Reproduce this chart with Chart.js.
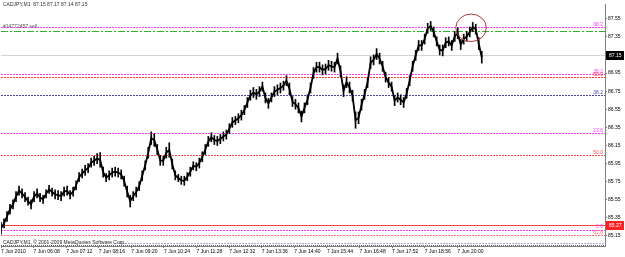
<!DOCTYPE html>
<html>
<head>
<meta charset="utf-8">
<script src="https://cdn.jsdelivr.net/npm/chart.js@4.4.0/dist/chart.umd.min.js"></script>
<style>
  html, body { margin: 0; padding: 0; background: #fff; }
</style>
</head>
<body>
<canvas id="myChart" width="625" height="257"></canvas>
<script>
// 차트 상단 텍스트
const titleText = "CADJPY,M1  87.15 87.17 87.14 87.15";
const orderText = "#14772457 sell";
const copyrightText = "CADJPY,M1, \u00a9 2001-2009 MetaQuotes Software Corp.";

// 시간축 라벨 (64분 간격)
const timeLabels = [
  "7 Jun 2010", "7 Jun 06:08", "7 Jun 07:12", "7 Jun 08:16", "7 Jun 09:20",
  "7 Jun 10:24", "7 Jun 11:28", "7 Jun 12:32", "7 Jun 13:36", "7 Jun 14:40",
  "7 Jun 15:44", "7 Jun 16:48", "7 Jun 17:52", "7 Jun 18:56", "7 Jun 20:00",
];
const labelStepMin = 64;
const sampleStepMin = 5.9;

// 가격축 눈금
const priceTicks = [85.15, 85.35, 85.55, 85.75, 85.95, 86.15, 86.35, 86.55, 86.75, 86.95, 87.15, 87.35, 87.55];

// 고가 / 저가 (화면에서 읽은 값)
const barHighs = [
  85.30, 85.34, 85.42, 85.50, 85.55, 85.64, 85.70, 85.67, 85.63, 85.58,
  85.55, 85.64, 85.67, 85.62, 85.60, 85.66, 85.71, 85.68, 85.66, 85.65,
  85.64, 85.69, 85.70, 85.65, 85.69, 85.76, 85.85, 85.89, 85.93, 85.95,
  86.01, 86.03, 86.06, 86.07, 85.91, 85.84, 85.87, 85.90, 85.91, 85.90,
  85.88, 85.81, 85.70, 85.60, 85.64, 85.69, 85.75, 85.87, 85.98, 86.13,
  86.30, 86.28, 86.16, 86.04, 86.03, 86.13, 86.18, 86.00, 85.87, 85.83,
  85.81, 85.81, 85.85, 85.91, 85.97, 85.96, 86.01, 86.08, 86.16, 86.25,
  86.29, 86.26, 86.25, 86.27, 86.30, 86.32, 86.39, 86.46, 86.47, 86.50,
  86.54, 86.59, 86.68, 86.76, 86.79, 86.77, 86.80, 86.85, 86.73, 86.67,
  86.73, 86.80, 86.82, 86.84, 86.86, 86.92, 86.84, 86.69, 86.66, 86.62,
  86.53, 86.62, 86.71, 86.84, 87.01, 87.07, 87.07, 87.04, 87.05, 87.09,
  87.08, 87.07, 87.17, 87.03, 86.82, 86.91, 86.85, 86.76, 86.52, 86.52,
  86.66, 86.77, 86.90, 87.13, 87.15, 87.22, 87.17, 87.08, 86.96, 86.90,
  86.85, 86.70, 86.73, 86.71, 86.68, 86.78, 86.92, 87.08, 87.20, 87.31,
  87.31, 87.38, 87.50, 87.52, 87.46, 87.35, 87.26, 87.26, 87.34, 87.35,
  87.31, 87.41, 87.45, 87.32, 87.38, 87.41, 87.46, 87.51, 87.49, 87.34,
  87.19,
];
const barLows = [
  85.17, 85.24, 85.31, 85.39, 85.45, 85.53, 85.60, 85.57, 85.53, 85.49,
  85.45, 85.53, 85.57, 85.53, 85.51, 85.57, 85.62, 85.59, 85.56, 85.55,
  85.54, 85.59, 85.60, 85.56, 85.59, 85.66, 85.75, 85.79, 85.82, 85.85,
  85.91, 85.93, 85.95, 85.91, 85.80, 85.75, 85.77, 85.80, 85.81, 85.80,
  85.78, 85.70, 85.58, 85.47, 85.54, 85.58, 85.65, 85.76, 85.88, 86.01,
  86.16, 86.14, 86.05, 85.93, 85.93, 86.01, 86.02, 85.89, 85.77, 85.75,
  85.72, 85.71, 85.76, 85.81, 85.88, 85.87, 85.90, 85.97, 86.05, 86.14,
  86.19, 86.16, 86.15, 86.17, 86.20, 86.22, 86.28, 86.35, 86.38, 86.40,
  86.43, 86.49, 86.57, 86.65, 86.68, 86.66, 86.69, 86.75, 86.62, 86.56,
  86.63, 86.69, 86.71, 86.73, 86.76, 86.81, 86.71, 86.58, 86.55, 86.51,
  86.41, 86.51, 86.60, 86.73, 86.89, 86.96, 86.96, 86.93, 86.94, 86.98,
  86.97, 86.96, 87.05, 86.91, 86.69, 86.79, 86.73, 86.64, 86.34, 86.39,
  86.54, 86.66, 86.79, 87.00, 87.04, 87.10, 87.05, 86.97, 86.85, 86.79,
  86.75, 86.59, 86.63, 86.60, 86.57, 86.67, 86.81, 86.97, 87.09, 87.20,
  87.20, 87.27, 87.39, 87.42, 87.35, 87.25, 87.15, 87.14, 87.23, 87.25,
  87.20, 87.30, 87.33, 87.21, 87.27, 87.30, 87.35, 87.41, 87.38, 87.21,
  87.06,
];

// 수평선 (피보나치 등)
const levelPrices = [87.46, 86.94, 86.91, 86.71, 86.29, 86.04, 85.22, 85.16];
const levelLabels = ["38.2", "38.2", "50.0", "38.2", "23.6", "50.0", "0.0", "61.8"];
const levelColors = ["#ff3cff", "#ff3cff", "#ff3030", "#4848a8", "#ff3cff", "#ff4848", "#ff3cff", "#ff7070"];

const sellPrice = 87.41;
const bidPrice = 87.15;
const stopPrice = 85.27;

// 동그라미 표시 (시간, 가격)
const markCenter = { t: 923, p: 87.45 };
const markRadius = { t: 30, p: 0.152 };

const axisFont = { family: "Liberation Sans", size: 5 };

function hLine(ctx, a, py, color, dash) {
  ctx.strokeStyle = color;
  ctx.setLineDash(dash);
  ctx.beginPath();
  ctx.moveTo(a.left, py);
  ctx.lineTo(a.right, py);
  ctx.stroke();
}

const overlayPlugin = {
  id: "overlay",
  beforeDatasetsDraw(chart) {
    const { ctx, chartArea: a, scales: { y } } = chart;
    const pix = (p) => Math.round(y.getPixelForValue(p)) + 0.5;
    ctx.save();
    ctx.lineWidth = 1;
    levelPrices.forEach((p, i) => hLine(ctx, a, pix(p), levelColors[i], [2, 1]));
    hLine(ctx, a, pix(sellPrice), "#30b030", [7, 2, 2, 2]);
    hLine(ctx, a, pix(bidPrice), "#d4d4d4", []);
    hLine(ctx, a, pix(stopPrice), "#ff4040", []);
    // 하단 점선 줄
    ctx.strokeStyle = "#b0a0e0";
    ctx.setLineDash([2, 1]);
    ctx.beginPath();
    ctx.moveTo(a.left + 118, a.bottom - 2.5);
    ctx.lineTo(a.right, a.bottom - 2.5);
    ctx.stroke();
    ctx.restore();
  },
  afterDraw(chart) {
    const { ctx, chartArea: a, scales: { x, y } } = chart;
    ctx.save();
    ctx.font = "5px 'Liberation Sans'";
    ctx.textBaseline = "bottom";
    ctx.textAlign = "right";
    levelPrices.forEach((p, i) => {
      ctx.fillStyle = levelColors[i];
      ctx.fillText(levelLabels[i], a.right - 2, y.getPixelForValue(p));
    });
    ctx.textAlign = "left";
    ctx.fillStyle = "#505050";
    ctx.fillText(orderText, a.left + 2, y.getPixelForValue(sellPrice) - 2);
    ctx.textBaseline = "middle";
    ctx.fillStyle = "#303030";
    ctx.fillText(titleText, a.left + 2, 5);
    ctx.fillStyle = "#202020";
    ctx.fillText(copyrightText, a.left + 2, a.bottom - 3);

    // 가격 박스
    [[bidPrice, "#000000"], [stopPrice, "#ff2020"]].forEach(([p, c]) => {
      const py = Math.round(y.getPixelForValue(p));
      ctx.fillStyle = c;
      ctx.fillRect(a.right + 1, py - 4, 18, 9);
      ctx.fillStyle = "#ffffff";
      ctx.fillText(p.toFixed(2), a.right + 4, py + 0.5);
    });

    // 동그라미
    const cx = x.getPixelForValue(markCenter.t);
    const cy = y.getPixelForValue(markCenter.p);
    const rx = x.getPixelForValue(markCenter.t + markRadius.t) - cx;
    const ry = cy - y.getPixelForValue(markCenter.p + markRadius.p);
    ctx.strokeStyle = "#b03838";
    ctx.lineWidth = 1;
    ctx.beginPath();
    ctx.ellipse(cx, cy, rx, ry, 0, 0, Math.PI * 2);
    ctx.stroke();

    // 하단 눈금줄
    ctx.strokeStyle = "#606060";
    ctx.setLineDash([1, 1]);
    ctx.beginPath();
    ctx.moveTo(a.left, a.bottom - 0.5);
    ctx.lineTo(a.right, a.bottom - 0.5);
    ctx.stroke();
    ctx.restore();
  },
};

const rangeData = barHighs.map((h, i) => ({ x: i * sampleStepMin, y: [barLows[i], h] }));
const midData = barHighs.map((h, i) => ({ x: i * sampleStepMin, y: (h + barLows[i]) / 2 }));

const ctx = document.getElementById("myChart").getContext("2d");
const myChart = new Chart(ctx, {
  type: "bar",
  data: {
    datasets: [
      {
        data: rangeData,
        backgroundColor: "#000000",
        borderWidth: 0,
        barThickness: 1,
      },
      {
        type: "line",
        data: midData,
        borderColor: "#000000",
        borderWidth: 1.8,
        pointRadius: 0,
        tension: 0,
      },
    ],
  },
  options: {
    responsive: false,
    animation: false,
    layout: { padding: { left: 1, top: 0, right: 0, bottom: 0 } },
    plugins: {
      legend: { display: false },
      tooltip: { enabled: false },
    },
    scales: {
      x: {
        type: "linear",
        offset: false,
        min: 0,
        max: 1186,
        afterBuildTicks: (scale) => {
          scale.ticks = timeLabels.map((l, i) => ({ value: i * labelStepMin }));
        },
        afterFit: (scale) => { scale.height = 11; },
        ticks: {
          autoSkip: false,
          maxRotation: 0,
          minRotation: 0,
          align: "start",
          padding: 1,
          color: "#000",
          font: axisFont,
          callback: (v, i) => timeLabels[i],
        },
        grid: { drawOnChartArea: false, offset: false, tickLength: 2, color: "#808080" },
        border: { color: "#808080" },
      },
      y: {
        position: "right",
        min: 85.039,
        max: 87.713,
        afterBuildTicks: (scale) => {
          scale.ticks = priceTicks.map((v) => ({ value: v }));
        },
        afterFit: (scale) => { scale.width = 20; },
        ticks: {
          padding: 1,
          color: "#000",
          font: axisFont,
          callback: (v) => v.toFixed(2),
        },
        grid: { drawOnChartArea: false, tickLength: 2, color: "#808080" },
        border: { color: "#808080" },
      },
    },
  },
  plugins: [overlayPlugin],
});
</script>
</body>
</html>
